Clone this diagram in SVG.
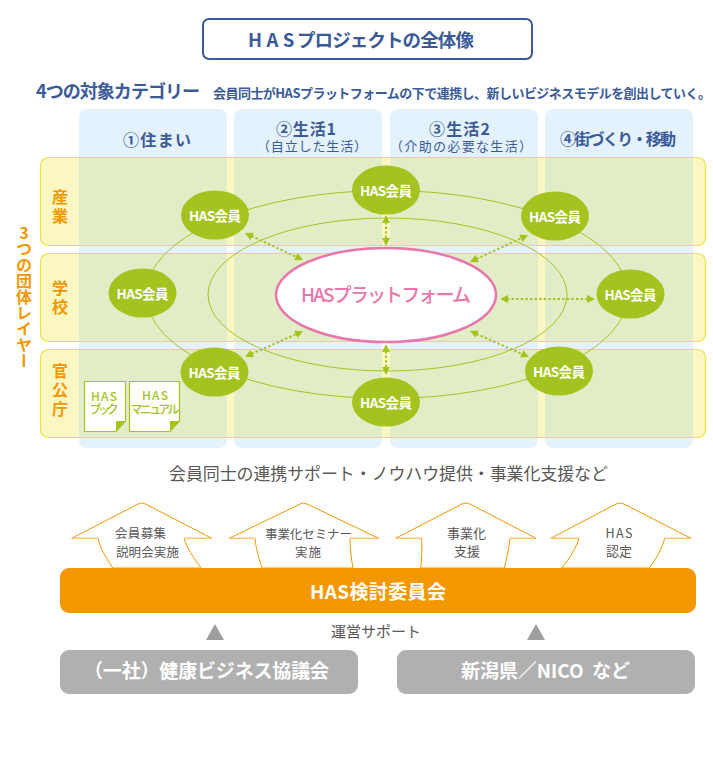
<svg xmlns="http://www.w3.org/2000/svg" width="713" height="757" viewBox="0 0 713 757">
<style>
text{font-family:"Noto Sans CJK JP","Noto Sans",sans-serif;text-anchor:middle}
.col{fill:#e3f2fc}
.row{fill:#fbf7c3}
.ov{fill:#e1edc6}
.rowl{fill:none;stroke:#ebe330;stroke-width:1.2}
.blue{fill:#3b5a98;font-weight:700}
.bluel{fill:#3b5a98;font-weight:400;font-size:13px}
.or{fill:#f39800;font-weight:700;font-size:16px}
.orbit{fill:none;stroke:#a4c31e;stroke-width:1}
.link{fill:none;stroke:#a4c31e;stroke-width:2;stroke-dasharray:2.4 2.2;marker-start:url(#tri);marker-end:url(#tri)}
.mem{fill:#a4c31e}
.memt{fill:#fff;font-weight:700;font-size:13.5px}
.doc{fill:#fff;stroke:#a4c31e;stroke-width:1.2}
.fold{fill:#a4c31e}
.doct{fill:#a4c31e;font-weight:500;font-size:12px}
.arr{fill:#fff;stroke:#f39800;stroke-width:1}
.arrl{fill:none;stroke:#fbc67a;stroke-width:1.2}
.g{fill:#595757;font-weight:400}
.w{fill:#fff;font-weight:700}
.tg{fill:#9e9e9e}
.box{fill:#b0b0b0}
</style>
<defs>
<marker id="tri" viewBox="0 0 8 8" refX="1" refY="4" markerWidth="4" markerHeight="4" orient="auto-start-reverse" markerUnits="strokeWidth"><path d="M8 0L0 4L8 8Z" fill="#a4c31e" transform="rotate(180 4 4)"/></marker>
</defs>
<g id="title">
<rect x="203" y="19" width="329" height="40" rx="6" fill="#fff" stroke="#3b5a98" stroke-width="2"/>
<text class="blue" x="248" y="47" font-size="18.500" style="text-anchor:start"><tspan letter-spacing="4.500">HAS</tspan><tspan x="297" letter-spacing="-0.900">プロジェクトの全体像</tspan></text>
</g>
<g id="heading">
<text class="blue" x="118" y="98" font-size="18" textLength="164">4つの対象カテゴリー</text>
<text class="blue" x="462" y="98" font-size="13" textLength="498">会員同士がHASプラットフォームの下で連携し、新しいビジネスモデルを創出していく。</text>
</g>
<g id="columns">
<rect class="col" x="79" y="109" width="148" height="339" rx="8"/>
<rect class="col" x="234" y="109" width="148" height="339" rx="8"/>
<rect class="col" x="390" y="109" width="148" height="339" rx="8"/>
<rect class="col" x="545" y="109" width="148" height="339" rx="8"/>
<text class="blue" x="157" y="146" font-size="16" textLength="68">①住まい</text>
<text class="blue" x="306" y="135" font-size="16" textLength="60">②生活1</text>
<text class="bluel" x="312" y="151" textLength="110">（自立した生活）</text>
<text class="blue" x="459.500" y="135" font-size="16" textLength="61">③生活2</text>
<text class="bluel" x="461" y="151" textLength="142">（介助の必要な生活）</text>
<text class="blue" x="618" y="145" font-size="16" textLength="116">④街づくり・移動</text>
</g>
<g id="rows">
<rect class="row" x="40.500" y="157.500" width="665" height="88" rx="8"/>
<rect class="row" x="40.500" y="253.500" width="665" height="88" rx="8"/>
<rect class="row" x="40.500" y="349.500" width="665" height="88" rx="8"/>
<rect class="ov" x="79" y="157.500" width="148" height="88"/><rect class="ov" x="234" y="157.500" width="148" height="88"/><rect class="ov" x="390" y="157.500" width="148" height="88"/><rect class="ov" x="545" y="157.500" width="148" height="88"/>
<rect class="ov" x="79" y="253.500" width="148" height="88"/><rect class="ov" x="234" y="253.500" width="148" height="88"/><rect class="ov" x="390" y="253.500" width="148" height="88"/><rect class="ov" x="545" y="253.500" width="148" height="88"/>
<rect class="ov" x="79" y="349.500" width="148" height="88"/><rect class="ov" x="234" y="349.500" width="148" height="88"/><rect class="ov" x="390" y="349.500" width="148" height="88"/><rect class="ov" x="545" y="349.500" width="148" height="88"/>
<rect class="rowl" x="40.500" y="157.500" width="665" height="88" rx="8"/>
<rect class="rowl" x="40.500" y="253.500" width="665" height="88" rx="8"/>
<rect class="rowl" x="40.500" y="349.500" width="665" height="88" rx="8"/>
<text class="or" x="60" y="203">産</text><text class="or" x="60" y="222">業</text>
<text class="or" x="60" y="294">学</text><text class="or" x="60" y="313">校</text>
<text class="or" x="60" y="377">官</text><text class="or" x="60" y="396">公</text><text class="or" x="60" y="415">庁</text>
</g>
<g id="layer-label">
<text class="or" x="24" y="225" style="writing-mode:vertical-rl;text-orientation:upright;text-anchor:start">3つの団体レイヤー</text>
</g>
<g id="connectors">
<ellipse class="orbit" cx="387" cy="294.500" rx="241" ry="104"/>
<ellipse class="orbit" cx="387.500" cy="294.500" rx="179.500" ry="76.500"/>
<path class="link" d="M386 222V239"/>
<path class="link" d="M386 351V368"/>
<path class="link" d="M507 299H588"/>
<path class="link" d="M476.300 259L521.700 238"/>
<path class="link" d="M251.300 236L296.700 257"/>
<path class="link" d="M251.400 354L296.600 334"/>
<path class="link" d="M476.400 333.800L522.600 354.200"/>
</g>
<g id="platform">
<ellipse cx="386" cy="295" rx="110" ry="47" fill="#fff" stroke="#e878ac" stroke-width="2.500"/>
<text x="386" y="302" font-size="19" font-weight="500" fill="#e878ac" textLength="170">HASプラットフォーム</text>
</g>
<g id="member-1"><ellipse class="mem" cx="215" cy="215" rx="34" ry="24.500"/><text class="memt" x="215" y="221" textLength="52">HAS会員</text></g>
<g id="member-2"><ellipse class="mem" cx="386" cy="190" rx="34" ry="24.500"/><text class="memt" x="386" y="196" textLength="52">HAS会員</text></g>
<g id="member-3"><ellipse class="mem" cx="555" cy="216" rx="34" ry="24.500"/><text class="memt" x="555" y="222" textLength="52">HAS会員</text></g>
<g id="member-4"><ellipse class="mem" cx="142.500" cy="293" rx="34" ry="24.500"/><text class="memt" x="142.500" y="299" textLength="52">HAS会員</text></g>
<g id="member-5"><ellipse class="mem" cx="630.500" cy="294" rx="34" ry="24.500"/><text class="memt" x="630.500" y="300" textLength="52">HAS会員</text></g>
<g id="member-6"><ellipse class="mem" cx="214.500" cy="372" rx="34" ry="24.500"/><text class="memt" x="214.500" y="378" textLength="52">HAS会員</text></g>
<g id="member-7"><ellipse class="mem" cx="386" cy="402" rx="34" ry="24.500"/><text class="memt" x="386" y="408" textLength="52">HAS会員</text></g>
<g id="member-8"><ellipse class="mem" cx="559" cy="371" rx="34" ry="24.500"/><text class="memt" x="559" y="377" textLength="52">HAS会員</text></g>
<g id="doc-book">
<path class="doc" d="M84.500 381.500H125.500V421L116 431.500H84.500Z"/>
<path class="fold" d="M116 421H125.500L116 431.500Z"/>
<text class="doct" x="104" y="401" textLength="26">HAS</text>
<text class="doct" x="104" y="414" textLength="29">ブック</text>
</g>
<g id="doc-manual">
<path class="doc" d="M129.500 381.500H179.500V421L170 431.500H129.500Z"/>
<path class="fold" d="M170 421H179.500L170 431.500Z"/>
<text class="doct" x="155" y="400" textLength="26">HAS</text>
<text class="doct" x="155" y="414" textLength="49">マニュアル</text>
</g>
<g id="support-text">
<text class="g" x="388.500" y="480" font-size="17" textLength="439">会員同士の連携サポート・ノウハウ提供・事業化支援など</text>
</g>
<g id="arrow-1">
<path class="arr" d="M112.700 568C105 556 100 548 98 538.300H71.700L138 504Q141.700 502 145.500 504L211.700 538.300H184C187 548 193 557 201 568Z"/>
<path class="arrl" d="M72 538.300H98M184 538.300H211"/>
<text class="g" x="140.500" y="538" font-size="12.500" textLength="51">会員募集</text>
<text class="g" x="147.500" y="557" font-size="12.500" textLength="63">説明会実施</text>
</g>
<g id="arrow-2">
<path class="arr" d="M262 568C258 556 256 548 255 538.300H229.300L300 504Q303.300 502 307 504L378.700 538.300H350C350 548 351 557 353 568Z"/>
<path class="arrl" d="M230 538.300H255M350 538.300H378"/>
<text class="g" x="308.500" y="539" font-size="12.500" textLength="87">事業化セミナー</text>
<text class="g" x="308" y="557" font-size="12.500" textLength="26">実施</text>
</g>
<g id="arrow-3">
<path class="arr" d="M420.700 568C422 557 422 548 421.700 538.300H395.700L462 504Q466 502 470 504L536 538.300H510C509 548 507 557 504.300 568Z"/>
<path class="arrl" d="M396 538.300H421.700M510 538.300H535"/>
<text class="g" x="466.500" y="538" font-size="13" textLength="39">事業化</text>
<text class="g" x="467" y="556" font-size="13" textLength="26">支援</text>
</g>
<g id="arrow-4">
<path class="arr" d="M561.700 568C570 558 576 548 579 538.300H550.700L616 504Q620 502 624 504L691 538.300H664.700C662 548 657 558 649.300 568Z"/>
<path class="arrl" d="M551 538.300H579M664.700 538.300H690"/>
<text class="g" x="619" y="538" font-size="12.500" textLength="27">HAS</text>
<text class="g" x="619" y="556" font-size="13" textLength="26">認定</text>
</g>
<g id="committee">
<rect x="60" y="568" width="636" height="45" rx="9" fill="#f39800"/>
<text class="w" x="378" y="599" font-size="19" textLength="136">HAS検討委員会</text>
</g>
<g id="support">
<path class="tg" d="M206 640H224L215 624Z"/>
<path class="tg" d="M527 640H545L536 624Z"/>
<text class="g" x="376" y="637" font-size="15" textLength="90">運営サポート</text>
</g>
<g id="org-1">
<rect class="box" x="60" y="650" width="298" height="44" rx="9"/>
<text class="w" x="206.500" y="678" font-size="19" textLength="245">（一社）健康ビジネス協議会</text>
</g>
<g id="org-2">
<rect class="box" x="397" y="650" width="298" height="44" rx="9"/>
<text class="w" x="545.500" y="678" font-size="19" textLength="169" xml:space="preserve">新潟県／NICO  など</text>
</g>
</svg>
